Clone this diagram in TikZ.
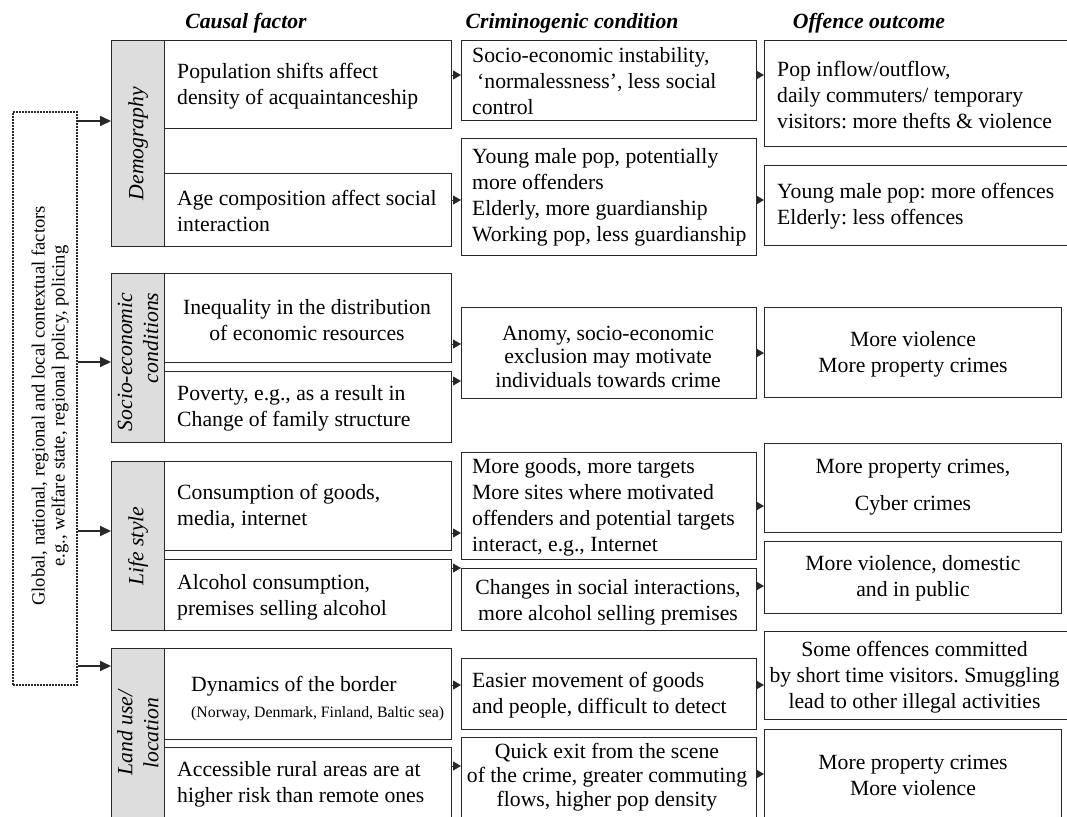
\documentclass[tikz,border=0pt]{standalone}
\usepackage{fontspec}
\setmainfont{Liberation Serif}
\usetikzlibrary{arrows.meta}
\definecolor{stripgray}{RGB}{221,221,221}
\definecolor{edge}{RGB}{40,40,40}
\newcommand{\mainfs}{\fontsize{21.7}{26}\selectfont}
\frenchspacing
\begin{document}
\frenchspacing
\begin{tikzpicture}[x=1pt,y=-1pt,
  box/.style={draw=edge, line width=1.3pt, rectangle, inner sep=0pt, anchor=north west},
  strip/.style={box, fill=stripgray},
  txt/.style={inner sep=0pt, font=\mainfs\frenchspacing, text=black},
  ltxt/.style={txt, anchor=west, align=left},
  ctxt/.style={txt, align=center},
  stxt/.style={txt, font=\mainfs\itshape, rotate=90, align=center},
  hdr/.style={inner sep=0pt, font=\mainfs\bfseries\itshape, anchor=base},
  arr/.style={draw=edge, line width=1pt, -{Triangle[length=8pt,width=9pt]}},
  bigarr/.style={draw=edge, line width=2pt, -{Triangle[length=11pt,width=10pt]}}]
\useasboundingbox (0,0) rectangle (1067,816);
\clip (0,0) rectangle (1067,816);
\fill[white] (0,0) rectangle (1067,816);

% headers
\node[hdr] (h1) at (246,29) {Causal factor};
\node[hdr] (h2) at (572,29) {Criminogenic condition};
\node[hdr] (h3) at (869,29) {Offence outcome};

% context box
\node[box, dash pattern=on 2pt off 1pt, line width=1.5pt, minimum width=64pt, minimum height=573pt] (ctx) at (12,111) {};
\node[txt, font=\fontsize{18.6}{20}\selectfont\frenchspacing, rotate=90, align=center] (ctxT) at (50,406)
  {Global, national, regional and local contextual factors\\e.g., welfare state, regional policy, policing};

% strips
\node[strip, minimum width=53pt, minimum height=206pt] (sDem) at (111,40) {};
\node[stxt] (sDemT) at (sDem.center) {Demography};
\node[strip, minimum width=53pt, minimum height=169pt] (sSE) at (111,273) {};
\node[stxt, align=right] (sSET) at (138,362) {Socio-economic\\conditions};
\node[strip, minimum width=53pt, minimum height=169pt] (sLS) at (111,461) {};
\node[stxt] (sLST) at (sLS.center) {Life style};
\node[strip, minimum width=53pt, minimum height=172pt] (sLU) at (111,648) {};
\node[stxt] (sLUT) at (138,733) {Land use/\\location};

% causal factor boxes
\node[box, minimum width=287pt, minimum height=88pt] (c1) at (164,40) {};
\node[ltxt] (c1t) at (177,86) {Population shifts affect\\density of acquaintanceship};
\node[box, minimum width=287pt, minimum height=73pt] (c2) at (164,173) {};
\node[ltxt] (c2t) at (177,211) {Age composition affect social\\interaction};
\node[box, minimum width=287pt, minimum height=89pt] (c3) at (164,273) {};
\node[ctxt] (c3t) at (307,320) {Inequality in the distribution\\of economic resources};
\node[box, minimum width=287pt, minimum height=71pt] (c4) at (164,371) {};
\node[ltxt] (c4t) at (177,408.5) {Poverty, e.g., as a result in\\Change of family structure};
\node[box, minimum width=287pt, minimum height=89pt] (c5) at (164,461) {};
\node[ltxt] (c5t) at (177,507) {Consumption of goods,\\media, internet};
\node[box, minimum width=287pt, minimum height=71pt] (c6) at (164,559) {};
\node[ltxt] (c6t) at (177,597.5) {Alcohol consumption,\\premises selling alcohol};
\node[box, minimum width=287pt, minimum height=91pt] (c7) at (164,648) {};
\node[ltxt] (c7t) at (191,699) {Dynamics of the border\\{\fontsize{15.8}{19}\selectfont (Norway, Denmark, Finland, Baltic sea)}};
\node[box, minimum width=287pt, minimum height=75pt] (c8) at (164,747) {};
\node[ltxt] (c8t) at (177,784.5) {Accessible rural areas are at\\higher risk than remote ones};

% criminogenic condition boxes
\node[box, minimum width=295pt, minimum height=80pt] (k1) at (461,40) {};
\node[ltxt] (k1t) at (472,81) {Socio-economic instability,\\\hspace*{5pt}‘normalessness’, less social\\control};
\node[box, minimum width=295pt, minimum height=117pt] (k2) at (461,138) {};
\node[ltxt] (k2t) at (472,197) {Young male pop, potentially\\more offenders\\Elderly, more guardianship\\Working pop, less guardianship};
\node[box, minimum width=295pt, minimum height=91pt] (k3) at (461,307) {};
\node[ctxt, font=\fontsize{21.7}{23.5}\selectfont\frenchspacing] (k3t) at (608,356.5) {Anomy, socio-economic\\exclusion may motivate\\individuals towards crime};
\node[box, minimum width=295pt, minimum height=107pt] (k4) at (461,452) {};
\node[ltxt] (k4t) at (472,507) {More goods, more targets\\More sites where motivated\\offenders and potential targets\\interact, e.g., Internet};
\node[box, minimum width=295pt, minimum height=62pt] (k5) at (461,568) {};
\node[ctxt] (k5t) at (608,602.5) {Changes in social interactions,\\more alcohol selling premises};
\node[box, minimum width=295pt, minimum height=71pt] (k6) at (461,658) {};
\node[ltxt] (k6t) at (472,695) {Easier movement of goods\\and people, difficult to detect};
\node[box, minimum width=295pt, minimum height=85pt] (k7) at (461,737) {};
\node[ctxt, font=\fontsize{21.7}{24}\selectfont\frenchspacing] (k7t) at (607,777) {Quick exit from the scene\\of the crime, greater commuting\\flows, higher pop density};

% offence outcome boxes
\node[box, minimum width=306pt, minimum height=106pt] (o1) at (764,40) {};
\node[ltxt] (o1t) at (777,95) {Pop inflow/outflow,\\daily commuters/ temporary\\visitors: more thefts \& violence};
\node[box, minimum width=306pt, minimum height=80pt] (o2) at (764,165) {};
\node[ltxt] (o2t) at (777,206.5) {Young male pop: more offences\\Elderly: less offences};
\node[box, minimum width=297pt, minimum height=90pt] (o3) at (764,307) {};
\node[ctxt] (o3t) at (913,354.5) {More violence\\More property crimes};
\node[box, minimum width=297pt, minimum height=89pt] (o4) at (764,443) {};
\node[ctxt] (o4t) at (913,487.5) {More property crimes,\\[11pt]Cyber crimes};
\node[box, minimum width=297pt, minimum height=72pt] (o5) at (764,541) {};
\node[ctxt] (o5t) at (913,578) {More violence, domestic\\and in public};
\node[box, minimum width=306pt, minimum height=88pt] (o6) at (764,631) {};
\node[ctxt] (o6t) at (914.5,677) {Some offences committed\\by short time visitors. Smuggling\\lead to other illegal activities};
\node[box, minimum width=297pt, minimum height=93pt] (o7) at (764,729) {};
\node[ctxt] (o7t) at (913,775) {More property crimes\\More violence};

% arrow levels
\coordinate (y121) at (0,121);
\coordinate (y362) at (0,362);
\coordinate (y531) at (0,531);
\coordinate (y666) at (0,666);
\coordinate (y75) at (0,75);
\coordinate (y200) at (0,200);
\coordinate (y344) at (0,344);
\coordinate (y381) at (0,381);
\coordinate (y533) at (0,533);
\coordinate (y568) at (0,568);
\coordinate (y685) at (0,685);
\coordinate (y766) at (0,766);
\coordinate (y353) at (0,353);
\coordinate (y506) at (0,506);
\coordinate (y586) at (0,586);
\coordinate (y774) at (0,774);

% context arrows
\draw[bigarr] (ctx.east |- y121) -- (sDem.west |- y121);
\draw[bigarr] (ctx.east |- y362) -- (sSE.west |- y362);
\draw[bigarr] (ctx.east |- y531) -- (sLS.west |- y531);
\draw[bigarr] (ctx.east |- y666) -- (sLU.west |- y666);

% causal -> criminogenic
\draw[arr] (c1.east |- y75) -- (k1.west |- y75);
\draw[arr] (c2.east |- y200) -- (k2.west |- y200);
\draw[arr] (c3.east |- y344) -- (k3.west |- y344);
\draw[arr] (c4.east |- y381) -- (k3.west |- y381);
\draw[arr] (c5.east |- y533) -- (k4.west |- y533);
\draw[arr] (c6.east |- y568) -- (k5.west |- y568);
\draw[arr] (c7.east |- y685) -- (k6.west |- y685);
\draw[arr] (c8.east |- y766) -- (k7.west |- y766);

% criminogenic -> outcome
\draw[arr] (k1.east |- y75) -- (o1.west |- y75);
\draw[arr] (k2.east |- y200) -- (o2.west |- y200);
\draw[arr] (k3.east |- y353) -- (o3.west |- y353);
\draw[arr] (k4.east |- y506) -- (o4.west |- y506);
\draw[arr] (k5.east |- y586) -- (o5.west |- y586);
\draw[arr] (k6.east |- y685) -- (o6.west |- y685);
\draw[arr] (k7.east |- y774) -- (o7.west |- y774);
\end{tikzpicture}
\end{document}
